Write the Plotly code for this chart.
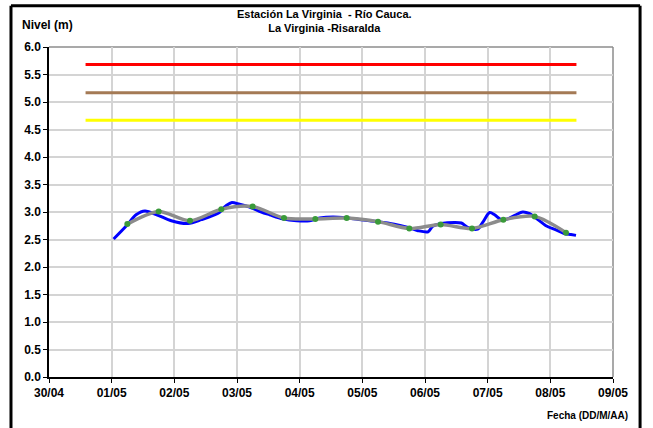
import plotly.graph_objects as go

# ---- data ----
obs_time = ["2011-05-01 00:45", "2011-05-01 05:40", "2011-05-01 09:20", "2011-05-01 12:45",
            "2011-05-01 17:45", "2011-05-01 22:50", "2011-05-02 05:15", "2011-05-02 10:20",
            "2011-05-02 17:15", "2011-05-02 19:10", "2011-05-02 21:50", "2011-05-03 01:00",
            "2011-05-03 04:50", "2011-05-03 09:20", "2011-05-03 12:30", "2011-05-03 17:30",
            "2011-05-03 22:50", "2011-05-04 03:50", "2011-05-04 07:40", "2011-05-04 12:45",
            "2011-05-04 18:30", "2011-05-04 23:30", "2011-05-05 06:00", "2011-05-05 12:15",
            "2011-05-05 17:30", "2011-05-05 21:20", "2011-05-06 01:10", "2011-05-06 02:55",
            "2011-05-06 06:15", "2011-05-06 11:15", "2011-05-06 13:55", "2011-05-06 16:20",
            "2011-05-06 20:10", "2011-05-06 22:05", "2011-05-07 00:45", "2011-05-07 02:40",
            "2011-05-07 05:15", "2011-05-07 07:40", "2011-05-07 10:50", "2011-05-07 13:25",
            "2011-05-07 16:05", "2011-05-07 18:30", "2011-05-07 22:20", "2011-05-08 02:10",
            "2011-05-08 05:15", "2011-05-08 07:55", "2011-05-08 09:50"]
obs_level = [2.51, 2.75, 2.95, 3.02, 2.94, 2.84, 2.79, 2.86, 2.99, 3.09, 3.17, 3.14,
             3.09, 3.00, 2.95, 2.875, 2.84, 2.84, 2.89, 2.91, 2.89, 2.86, 2.825, 2.78,
             2.72, 2.66, 2.64, 2.74, 2.79, 2.81, 2.80, 2.72, 2.69, 2.81, 2.99, 2.95,
             2.86, 2.875, 2.95, 3.00, 2.97, 2.89, 2.75, 2.675, 2.61, 2.59, 2.575]

avg_time = ["2011-05-01 06:00", "2011-05-01 18:00", "2011-05-02 06:00", "2011-05-02 18:00",
            "2011-05-03 06:00", "2011-05-03 18:00", "2011-05-04 06:00", "2011-05-04 18:00",
            "2011-05-05 06:00", "2011-05-05 18:00", "2011-05-06 06:00", "2011-05-06 18:00",
            "2011-05-07 06:00", "2011-05-07 18:00", "2011-05-08 06:00"]
avg_level = [2.78, 3.01, 2.84, 3.05, 3.10, 2.89, 2.875, 2.89, 2.825, 2.70, 2.775, 2.70,
             2.86, 2.92, 2.625]

thr_time = ["2011-04-30 14:00", "2011-05-08 10:00"]
thr_red = 5.68
thr_brown = 5.17
thr_yellow = 4.67

x_ticks = ["2011-04-30", "2011-05-01", "2011-05-02", "2011-05-03", "2011-05-04",
           "2011-05-05", "2011-05-06", "2011-05-07", "2011-05-08", "2011-05-09"]
x_tick_labels = ["30/04", "01/05", "02/05", "03/05", "04/05", "05/05", "06/05",
                 "07/05", "08/05", "09/05"]
y_ticks = [0.0, 0.5, 1.0, 1.5, 2.0, 2.5, 3.0, 3.5, 4.0, 4.5, 5.0, 5.5, 6.0]

FONT = "Liberation Sans, Arial, sans-serif"

fig = go.Figure()
for val, col in [(thr_red, "#FF0000"), (thr_brown, "#A47A55"), (thr_yellow, "#FFFF00")]:
    fig.add_trace(go.Scatter(x=thr_time, y=[val, val], mode="lines",
                             line=dict(color=col, width=3), showlegend=False,
                             hoverinfo="skip"))

fig.add_trace(go.Scatter(x=obs_time, y=obs_level, mode="lines",
                         line=dict(color="#0000FF", width=3, shape="spline", smoothing=0.8),
                         showlegend=False))
fig.add_trace(go.Scatter(x=avg_time, y=avg_level, mode="lines+markers",
                         line=dict(color="#8C8C8C", width=3.5, shape="spline", smoothing=0.8),
                         marker=dict(color="#3A9A3A", size=6),
                         showlegend=False))

BX0, BX1, BY0, BY1 = -0.0674, 1.048, -0.25, 1.125

fig.update_layout(
    width=653, height=428,
    margin=dict(l=49, r=40, t=47, b=51),
    paper_bgcolor="white", plot_bgcolor="white",
    font=dict(family=FONT, color="black"),
    xaxis=dict(range=["2011-04-30", "2011-05-09"], tickvals=x_ticks,
               ticktext=x_tick_labels, showgrid=True, gridcolor="#D4D4D4", gridwidth=1.5,
               showline=True, linecolor="black", linewidth=1.5,
               ticks="outside", ticklen=4, tickcolor="black",
               tickfont=dict(size=12, family=FONT, weight="bold"), zeroline=False),
    yaxis=dict(range=[0, 6], tickvals=y_ticks, tickformat=".1f",
               showgrid=True, gridcolor="#D4D4D4", gridwidth=1.5,
               showline=True, linecolor="black", linewidth=1.5,
               ticks="outside", ticklen=4, tickcolor="black",
               tickfont=dict(size=12, family=FONT, weight="bold"), zeroline=False),
    shapes=[
        dict(type="line", xref="paper", yref="paper", x0=0, x1=1, y0=1, y1=1,
             line=dict(color="#8C8C8C", width=1.5), layer="below"),
        dict(type="line", xref="paper", yref="paper", x0=1, x1=1, y0=0, y1=1,
             line=dict(color="#8C8C8C", width=1.5), layer="below"),
        dict(type="line", xref="paper", yref="paper", x0=BX0, x1=BX1, y0=BY1, y1=BY1,
             line=dict(color="black", width=3)),
        dict(type="line", xref="paper", yref="paper", x0=BX0, x1=BX0, y0=BY0, y1=BY1,
             line=dict(color="black", width=3)),
        dict(type="line", xref="paper", yref="paper", x0=BX1, x1=BX1, y0=BY0, y1=BY1,
             line=dict(color="black", width=3)),
    ],
    annotations=[
        dict(text="Estación La Virginia  - Río Cauca.<br>La Virginia -Risaralda",
             xref="paper", yref="paper", x=0.489, y=1.078, xanchor="center",
             yanchor="middle", showarrow=False,
             font=dict(size=11, family=FONT, weight="bold")),
        dict(text="Nivel (m)", xref="paper", yref="paper", x=-0.052, y=1.066,
             xanchor="left", yanchor="middle", showarrow=False,
             font=dict(size=12, family=FONT, weight="bold")),
        dict(text="Fecha (DD/M/AA)", xref="paper", yref="paper", x=1.031, y=-0.116,
             xanchor="right", yanchor="middle", showarrow=False,
             font=dict(size=10, family=FONT, weight="bold")),
    ],
)

fig.write_html("out.html", post_script="document.body.style.margin='0';",
               config={"displayModeBar": False})
